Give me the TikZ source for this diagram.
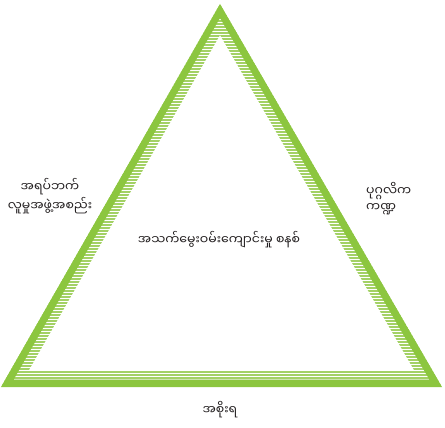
\documentclass[tikz,border=0pt]{standalone}
\usepackage{fontspec}
\newfontfamily\mmfont[Script=Myanmar]{Noto Sans Myanmar UI}
\usetikzlibrary{calc}
\definecolor{leaf}{HTML}{8CC63F}
\definecolor{ink}{HTML}{231F20}
\tikzset{
  every node/.style={font=\mmfont\fontsize{12.5}{14}\selectfont,text=ink},
  tag/.style={align=center,inner sep=1pt},
  hatch/.style={draw=leaf!80,line width=1.2pt},
  band/.style={fill=leaf,even odd rule},
}
\begin{document}
\begin{tikzpicture}[x=1pt,y=-1pt]
\useasboundingbox (0,0) rectangle (445,428);
% outer corners, band edge, hatch edge
\coordinate (top) at (220,4);
\coordinate (bl) at (1,387);
\coordinate (br) at (442,387);
\coordinate (top2) at (220,18);
\coordinate (bl2) at (14,379);
\coordinate (br2) at (429,379);
\coordinate (top3) at (220,35);
\coordinate (bl3) at (29,370);
\coordinate (br3) at (414,370);
\begin{scope}[even odd rule]
\clip (top) -- (bl) -- (br) -- cycle (top3) -- (bl3) -- (br3) -- cycle;
\foreach \y in {6,9,...,384}
  \draw[hatch] (0,\y) -- (445,\y);
\end{scope}
\fill[band] (top) -- (bl) -- (br) -- cycle (top2) -- (bl2) -- (br2) -- cycle;
\draw[leaf!45,line width=0.6pt] (bl2) -- (br2);

\node[tag] (civil) at (50,196) {အရပ်ဘက်\\[2pt]လူမှုအဖွဲ့အစည်း};
\node[tag,align=left,anchor=west] (private) at (365,199) {ပုဂ္ဂလိက\\[2pt]ကဏ္ဍ};
\node[tag] (system) at (219,240) {အသက်မွေးဝမ်းကျောင်းမှု စနစ်};
\node[tag] (govt) at (220,410) {အစိုးရ};
\end{tikzpicture}
\end{document}
